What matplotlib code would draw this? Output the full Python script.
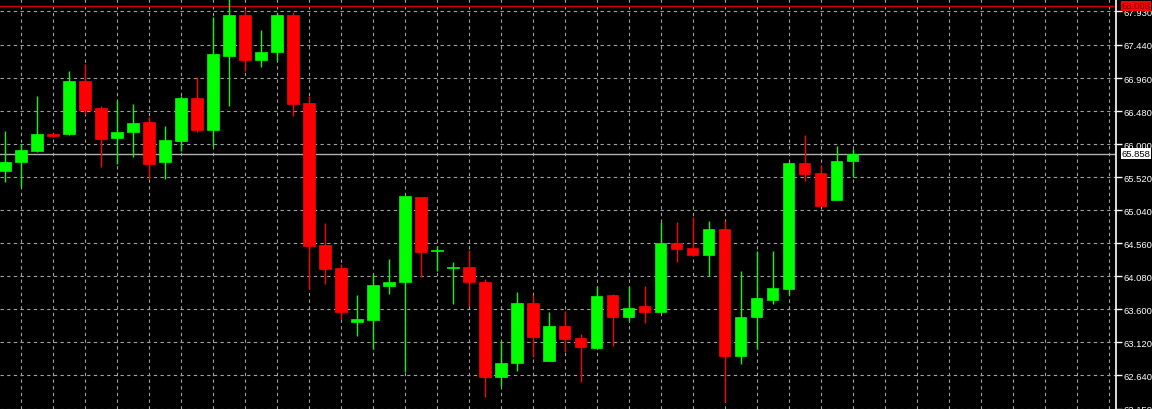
import numpy as np
import matplotlib
matplotlib.use("Agg")
import matplotlib.pyplot as plt
from matplotlib.transforms import blended_transform_factory

# OHLC values, one per bar
opens = [65.607, 65.738, 65.898, 66.145, 66.145, 66.916, 66.524, 66.087, 66.175, 66.320,
         65.738, 66.044, 66.669, 66.204, 67.280, 67.876, 67.222, 67.338, 67.876, 66.596,
         64.531, 64.196, 63.411, 63.440, 63.935, 63.993, 65.229, 64.444, 64.196, 64.211,
         63.993, 62.611, 62.815, 63.687, 62.844, 63.353, 63.178, 63.033, 63.804, 63.484,
         63.644, 63.556, 64.560, 64.487, 64.386, 64.764, 62.916, 63.484, 63.731, 63.891,
         65.724, 65.578, 65.185, 65.753]
highs = [66.189, 66.000, 66.698, 66.160, 67.062, 67.164, 66.553, 66.640, 66.582, 66.393,
         66.262, 66.698, 66.975, 67.847, 68.120, 67.964, 67.658, 67.905, 67.920, 66.698,
         64.851, 64.255, 63.804, 64.109, 64.327, 65.244, 65.229, 64.516, 64.284, 64.458,
         64.036, 63.135, 63.847, 63.804, 63.556, 63.571, 63.236, 63.935, 63.818, 63.935,
         63.935, 64.865, 64.865, 64.938, 64.880, 64.880, 64.153, 64.444, 64.444, 65.738,
         66.131, 65.695, 65.971, 65.927]
lows = [65.447, 65.375, 65.884, 66.102, 66.131, 66.436, 65.665, 65.709, 65.811, 65.491,
        65.491, 65.898, 66.175, 65.971, 66.553, 67.062, 67.120, 67.207, 66.407, 63.891,
        63.964, 63.455, 63.207, 63.018, 63.818, 62.684, 64.065, 64.153, 63.673, 63.644,
        62.320, 62.480, 62.698, 62.902, 62.844, 62.975, 62.538, 63.018, 63.062, 63.426,
        63.396, 63.556, 64.284, 64.371, 64.080, 62.247, 62.800, 63.018, 63.673, 63.804,
        65.462, 65.098, 65.185, 65.520]
closes = [65.738, 65.913, 66.145, 66.116, 66.916, 66.495, 66.073, 66.175, 66.305, 65.709,
          66.058, 66.669, 66.204, 67.309, 67.876, 67.222, 67.338, 67.876, 66.582, 64.516,
          64.182, 63.556, 63.455, 63.949, 63.993, 65.244, 64.429, 64.458, 64.211, 63.993,
          62.611, 62.815, 63.687, 63.193, 63.353, 63.164, 63.047, 63.789, 63.484, 63.615,
          63.556, 64.560, 64.473, 64.386, 64.764, 62.916, 63.484, 63.760, 63.905, 65.724,
          65.564, 65.098, 65.753, 65.858]

price_ticks = [67.930, 67.440, 66.960, 66.480, 66.000, 65.520, 65.040,
               64.560, 64.080, 63.600, 63.120, 62.640, 62.150]
tick_labels = ["67.930", "67.440", "66.960", "66.480", "66.000", "65.520", "65.040",
               "64.560", "64.080", "63.600", "63.120", "62.640", "62.150"]
top_level = 68.008
last_price = 65.858

plt.rcParams['font.family'] = ['Liberation Sans', 'DejaVu Sans']

fig = plt.figure(figsize=(11.52, 4.10), dpi=100, facecolor="black")
ax = fig.add_axes([0, 0, 1116 / 1152, 1])
ax.set_facecolor("black")

x = np.arange(len(opens))
o = np.array(opens)
c = np.array(closes)
up = c >= o
colors = np.where(up, "#00ff00", "#ff0000")

# wicks then bodies
ax.vlines(x, lows, highs, colors=colors, linewidth=1, zorder=3)
bottoms = np.minimum(o, c)
heights = np.maximum(np.abs(c - o), 0.012)
ax.bar(x, heights, bottom=bottoms, width=0.69, color=colors,
       edgecolor=colors, linewidth=0.5, zorder=4)

# level lines
ax.axhline(top_level, color="#d00000", linewidth=1, zorder=2)
ax.axhline(last_price, color="#b0b0b0", linewidth=1, zorder=2)

ax.set_xlim(-0.3125, 69.44)
ax.set_ylim(62.146, 68.109)

ax.set_xticks(np.arange(1, 70, 2))
ax.set_yticks(price_ticks)
ax.set_yticklabels(tick_labels)
ax.yaxis.tick_right()
ax.tick_params(axis="x", bottom=False, labelbottom=False)
ax.tick_params(axis="y", colors="white", labelcolor="white", length=4,
               width=1, labelsize=6.8, pad=1.5)
ax.grid(True, color="#a0a0a0", linestyle=(0, (3, 3)), linewidth=0.8, zorder=1)

for side in ["left", "top", "bottom"]:
    ax.spines[side].set_visible(False)
ax.spines["right"].set_color("white")
ax.spines["right"].set_linewidth(1.2)

# price tags on the axis
tr = blended_transform_factory(ax.transAxes, ax.transData)
ax.text(1.005, top_level, "68.008", transform=tr, fontsize=6.8, color="#700000",
        va="center", ha="left", clip_on=False,
        bbox=dict(boxstyle="square,pad=0.1", facecolor="#ff0000", edgecolor="none"))
ax.text(1.005, last_price, "65.858", transform=tr, fontsize=6.8, color="black",
        va="center", ha="left", clip_on=False,
        bbox=dict(boxstyle="square,pad=0.1", facecolor="white", edgecolor="none"))

fig.savefig("out.png", dpi=100, facecolor="black")
